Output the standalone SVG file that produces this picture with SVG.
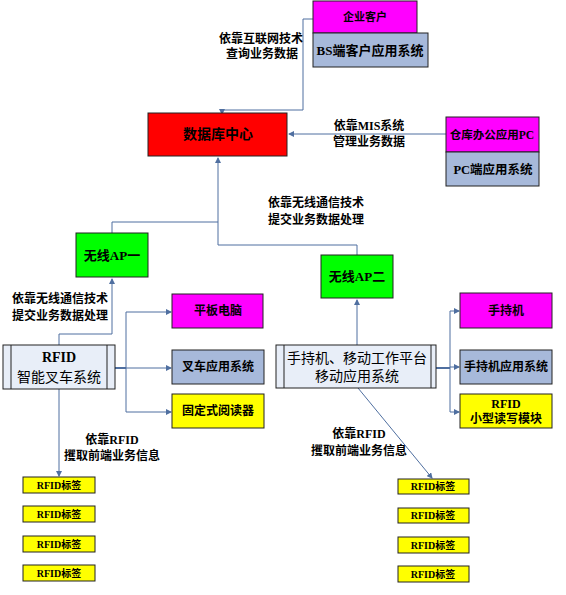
<svg xmlns="http://www.w3.org/2000/svg" width="566" height="595" viewBox="0 0 566 595">
<defs>
<marker id="arr" markerWidth="6" markerHeight="6" refX="5" refY="3" orient="auto" markerUnits="userSpaceOnUse">
<path d="M0,0 L6,3 L0,6 Z" fill="#4F6FA0"/>
</marker>
<style>
.box{stroke:#222;stroke-width:1}
.mag{fill:#FF00FF}.red{fill:#FF0000}.grn{fill:#00FF00}.yel{fill:#FFFF00}.stl{fill:#A7B9DA}.pale{fill:#E8EEF8}
.t{font-family:"Liberation Serif","Noto Sans CJK SC",serif;fill:#000;text-anchor:middle}
.b{font-weight:bold}
.c{fill:none;stroke:#4F6FA0;stroke-width:1}
.a{marker-end:url(#arr)}
</style>
</defs>
<rect width="566" height="595" fill="#fff"/>
<g id="connectors">
<path class="c a" d="M313,19 H303 V110 H222 V114"/>
<path class="c a" d="M446,134 H289"/>
<path class="c a" d="M357,255 V245 H218 V158"/>
<path class="c" d="M112,233 V222 H218"/>
<path class="c a" d="M59,345 V334 H112 V279"/>
<path class="c a" d="M357,345 V300"/>
<path class="c a" d="M59,389 V476"/>
<path class="c a" d="M358,388 L432,478"/>
<path class="c" d="M115,368 H126" style="stroke-width:2"/>
<path class="c" d="M126,312 V412"/>
<path class="c a" d="M126,312 H171"/>
<path class="c a" d="M126,368 H171"/>
<path class="c a" d="M126,412 H171"/>
<path class="c" d="M436,368 H450" style="stroke-width:2"/>
<path class="c" d="M450,311 V412"/>
<path class="c a" d="M450,311 H459"/>
<path class="c a" d="M450,367 H459"/>
<path class="c a" d="M450,412 H459"/>
</g>
<g id="labels">
<text class="t b" x="261" y="43" font-size="12">依靠互联网技术</text>
<text class="t b" x="262" y="58" font-size="12">查询业务数据</text>
<text class="t b" x="369" y="130" font-size="12">依靠MIS系统</text>
<text class="t b" x="369" y="146" font-size="12">管理业务数据</text>
<text class="t b" x="316" y="207" font-size="12">依靠无线通信技术</text>
<text class="t b" x="316" y="224" font-size="12">提交业务数据处理</text>
<text class="t b" x="60" y="303" font-size="12">依靠无线通信技术</text>
<text class="t b" x="60" y="320" font-size="12">提交业务数据处理</text>
<text class="t b" x="112" y="444" font-size="12">依靠RFID</text>
<text class="t b" x="112" y="460" font-size="12">攫取前端业务信息</text>
<text class="t b" x="359" y="438" font-size="12">依靠RFID</text>
<text class="t b" x="359" y="455" font-size="12">攫取前端业务信息</text>
</g>
<g id="enterprise">
<rect class="box mag" x="313" y="1" width="104" height="32"/>
<text class="t b" x="365" y="21" font-size="11">企业客户</text>
</g>
<g id="bs">
<rect class="box stl" x="313" y="33" width="115" height="34"/>
<text class="t b" x="370" y="55" font-size="13">BS端客户应用系统</text>
</g>
<g id="db">
<rect class="box red" x="148" y="113" width="139" height="43"/>
<text class="t b" x="218" y="139" font-size="14">数据库中心</text>
</g>
<g id="warehouse">
<rect class="box mag" x="446" y="117" width="93" height="35"/>
<text class="t b" x="492" y="139" font-size="11.5">仓库办公应用PC</text>
</g>
<g id="pcapp">
<rect class="box stl" x="446" y="152" width="93" height="34"/>
<text class="t b" x="493" y="174" font-size="12.5">PC端应用系统</text>
</g>
<g id="ap1">
<rect class="box grn" x="76" y="233" width="72" height="44"/>
<text class="t b" x="112" y="260" font-size="13">无线AP一</text>
</g>
<g id="ap2">
<rect class="box grn" x="321" y="255" width="72" height="43"/>
<text class="t b" x="357" y="281" font-size="13">无线AP二</text>
</g>
<g id="forklift">
<rect class="box pale" x="3" y="345" width="112" height="44"/>
<line class="box" x1="11" y1="345" x2="11" y2="389"/>
<line class="box" x1="107" y1="345" x2="107" y2="389"/>
<text class="t b" x="59" y="362" font-size="14">RFID</text>
<text class="t" x="59" y="382" font-size="14">智能叉车系统</text>
</g>
<g id="tablet">
<rect class="box mag" x="172" y="294" width="91" height="34"/>
<text class="t b" x="218" y="315" font-size="12">平板电脑</text>
</g>
<g id="forkapp">
<rect class="box stl" x="172" y="350" width="92" height="34"/>
<text class="t b" x="218" y="371" font-size="12">叉车应用系统</text>
</g>
<g id="reader">
<rect class="box yel" x="172" y="394" width="92" height="34"/>
<text class="t b" x="218" y="415" font-size="12">固定式阅读器</text>
</g>
<g id="mobile">
<rect class="box pale" x="276" y="345" width="160" height="43"/>
<line class="box" x1="284" y1="345" x2="284" y2="388"/>
<line class="box" x1="431" y1="345" x2="431" y2="388"/>
<text class="t" x="357" y="363" font-size="14">手持机、移动工作平台</text>
<text class="t" x="357" y="381" font-size="14">移动应用系统</text>
</g>
<g id="handheld">
<rect class="box mag" x="460" y="293" width="92" height="35"/>
<text class="t b" x="506" y="315" font-size="12">手持机</text>
</g>
<g id="handapp">
<rect class="box stl" x="460" y="350" width="92" height="34"/>
<text class="t b" x="506" y="371" font-size="12">手持机应用系统</text>
</g>
<g id="rfidmod">
<rect class="box yel" x="460" y="394" width="92" height="34"/>
<text class="t b" x="506" y="408" font-size="12">RFID</text>
<text class="t b" x="506" y="423" font-size="12">小型读写模块</text>
</g>
<g id="tagsL">
<rect class="box yel" x="23" y="477" width="72" height="16"/>
<text class="t b" x="59" y="489" font-size="10">RFID标签</text>
<rect class="box yel" x="23" y="506" width="72" height="16"/>
<text class="t b" x="59" y="518" font-size="10">RFID标签</text>
<rect class="box yel" x="23" y="536" width="72" height="16"/>
<text class="t b" x="59" y="548" font-size="10">RFID标签</text>
<rect class="box yel" x="23" y="565" width="72" height="16"/>
<text class="t b" x="59" y="577" font-size="10">RFID标签</text>
</g>
<g id="tagsR">
<rect class="box yel" x="398" y="479" width="71" height="15"/>
<text class="t b" x="433" y="490" font-size="10">RFID标签</text>
<rect class="box yel" x="398" y="508" width="71" height="15"/>
<text class="t b" x="433" y="519" font-size="10">RFID标签</text>
<rect class="box yel" x="398" y="537" width="71" height="16"/>
<text class="t b" x="433" y="549" font-size="10">RFID标签</text>
<rect class="box yel" x="398" y="566" width="71" height="16"/>
<text class="t b" x="433" y="578" font-size="10">RFID标签</text>
</g>
</svg>
